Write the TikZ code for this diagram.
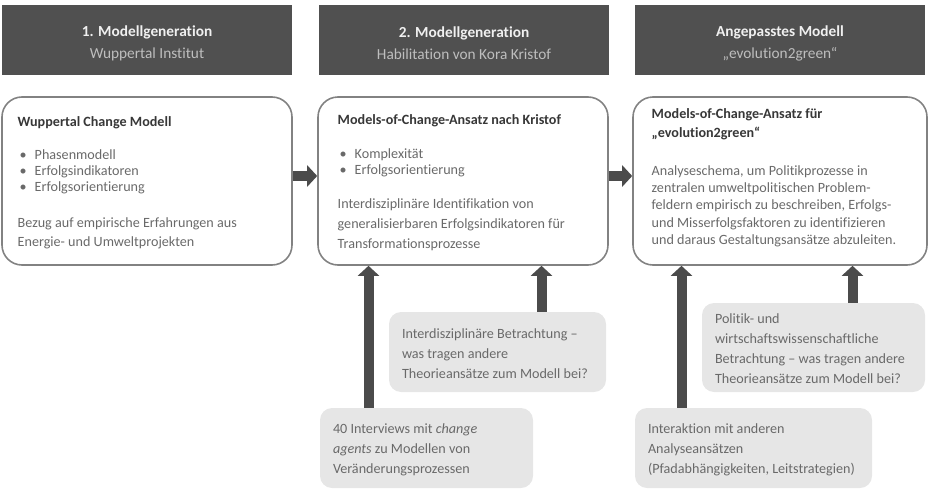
\documentclass[tikz,border=0pt]{standalone}
\usepackage{fontspec}
\setmainfont{Carlito}[Ligatures=NoCommon]
\usetikzlibrary{arrows.meta,calc}

\definecolor{headfill}{RGB}{80,80,80}
\definecolor{headtext}{RGB}{240,240,240}
\definecolor{subtext}{RGB}{190,190,190}
\definecolor{boxline}{RGB}{130,130,130}
\definecolor{titletext}{RGB}{55,55,55}
\definecolor{bodytext}{RGB}{105,105,105}
\definecolor{notefill}{RGB}{230,230,230}
\definecolor{arrowgray}{RGB}{75,75,75}

\newcommand{\bul}{\makebox[12.75pt][l]{\hspace{1.5pt}\textbullet}}

\tikzset{every picture/.style={line width=0.75pt}}
\tikzset{
  headbox/.style={fill=headfill, minimum width=217.5pt, minimum height=52.5pt, inner sep=0pt},
  headtext/.style={align=center, inner sep=0pt, font=\fontsize{11.5}{16.5}\selectfont},
  modbox/.style={draw=boxline, line width=1.2pt, rounded corners=15pt, minimum height=126pt},
  modtext/.style={anchor=north west, inner sep=0pt, align=left, text=bodytext, font=\fontsize{10.6}{14}\selectfont},
  notebox/.style={fill=notefill, rounded corners=9pt},
  notetext/.style={anchor=north west, inner sep=0pt, align=left, text=bodytext, font=\fontsize{10.6}{15}\selectfont},
  bigarrow/.style={draw=arrowgray, line width=7.5pt, -{Triangle[width=15.75pt,length=7.5pt]}}
}

\begin{document}
\begin{tikzpicture}[x=0.75pt,y=0.75pt,yscale=-1,xscale=1]
\useasboundingbox (0,0) rectangle (931,489);

% Header boxes
\node[headbox] (h1) at (147,40) {};
\node[headbox] (h2) at (464,40) {};
\node[headbox] (h3) at (780,40) {};
% Text Node
\node[headtext] (th1) at ($(h1.center)+(0,3)$) {{\color{headtext}\textbf{1. Modellgeneration}}\\{\color{subtext}Wuppertal Institut}};
\node[headtext] (th2) at ($(h2.center)+(0,3)$) {{\color{headtext}\textbf{2. Modellgeneration}}\\{\color{subtext}Habilitation von Kora Kristof}};
\node[headtext] (th3) at ($(h3.center)+(0,3)$) {{\color{headtext}\textbf{Angepasstes Modell}}\\{\color{subtext}„evolution2green“}};

% Model boxes
\node[modbox, minimum width=217.5pt] (m1) at (147,181) {};
\node[modbox, minimum width=217.5pt] (m2) at (463,181) {};
\node[modbox, minimum width=220.5pt] (m3) at (780,181) {};

% Text Node
\node[modtext] (t1) at ($(m1.north west)+(16,20)$) {%
{\color{titletext}\textbf{Wuppertal Change Modell}}\\[10.75pt]
\bul Phasenmodell\\[-2pt]
\bul Erfolgsindikatoren\\[-2pt]
\bul Erfolgsorientierung\\[13pt]
Bezug auf empirische Erfahrungen aus\\
Energie- und Umweltprojekten};
% Text Node
\node[modtext] (t2) at ($(m2.north west)+(20,18)$) {%
{\color{titletext}\textbf{Models-of-Change-Ansatz nach Kristof}}\\[11.5pt]
\bul Komplexität\\[-2pt]
\bul Erfolgsorientierung\\[11.5pt]
Interdisziplinäre Identifikation von\\[1pt]
generalisierbaren Erfolgsindikatoren für\\[1pt]
Transformationsprozesse};
% Text Node
\node[modtext] (t3) at ($(m3.north west)+(19,12)$) {%
{\color{titletext}\textbf{Models-of-Change-Ansatz für}}\\
{\color{titletext}\textbf{„evolution2green“}}\\[14.5pt]
Analyseschema, um Politikprozesse in\\[-1pt]
zentralen umweltpolitischen Problem-\\[-1pt]
feldern empirisch zu beschreiben, Erfolgs-\\[-1pt]
und Misserfolgsfaktoren zu identifizieren\\[-1pt]
und daraus Gestaltungsansätze abzuleiten.};

% Note boxes
\node[notebox, minimum width=162.75pt, minimum height=60pt] (na) at (497.5,352) {};
\node[notebox, minimum width=159.75pt, minimum height=60pt] (nb) at (426.5,448) {};
\node[notebox, minimum width=167.25pt, minimum height=66.75pt] (nc) at (813.5,347.5) {};
\node[notebox, minimum width=177.75pt, minimum height=60pt] (nd) at (753.5,448) {};

\node[notetext] (ta) at ($(na.north west)+(13,17)$) {Interdisziplinäre Betrachtung –\\was tragen andere\\Theorieansätze zum Modell bei?};
\node[notetext] (tb) at ($(nb.north west)+(13,16)$) {40 Interviews mit \textit{change}\\\textit{agents} zu Modellen von\\Veränderungsprozessen};
\node[notetext] (tc) at ($(nc.north west)+(13,11)$) {Politik- und\\wirtschaftswissenschaftliche\\Betrachtung – was tragen andere\\Theorieansätze zum Modell bei?};
\node[notetext] (td) at ($(nd.north west)+(13,16)$) {Interaktion mit anderen\\Analyseansätzen\\(Pfadabhängigkeiten, Leitstrategien)};

% Arrows
\draw[bigarrow] ($(m1.east)+(0,-5)$) -- ($(m2.west)+(0,-5)$);
\draw[bigarrow] ($(m2.east)+(0,-5)$) -- ($(m3.west)+(0,-5)$);
\draw[bigarrow] ($(nb.north west)+(49,0)$) coordinate (ab) -- (ab |- m2.south);
\draw[bigarrow] ($(na.north west)+(153,0)$) coordinate (aa) -- (aa |- m2.south);
\draw[bigarrow] ($(nd.north west)+(47,0)$) coordinate (ad) -- (ad |- m3.south);
\draw[bigarrow] ($(nc.north west)+(151,0)$) coordinate (ac) -- (ac |- m3.south);

\end{tikzpicture}
\end{document}
